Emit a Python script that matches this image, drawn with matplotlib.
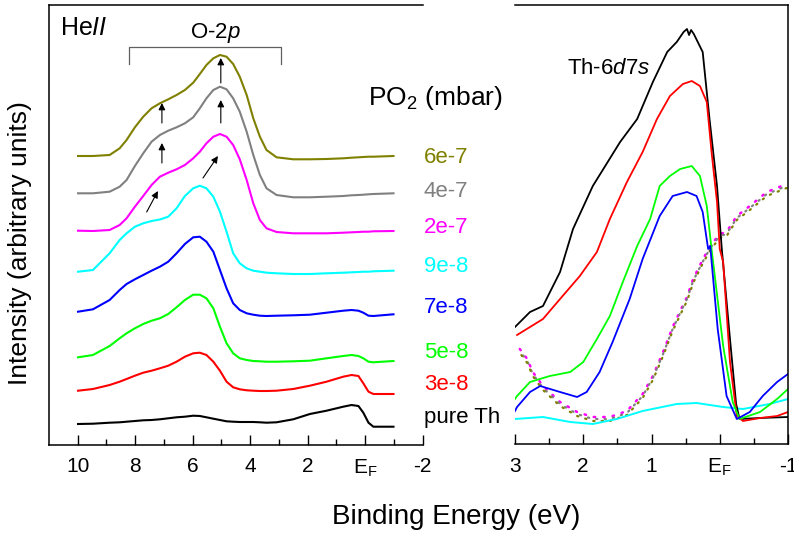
import matplotlib
matplotlib.use("Agg")
import matplotlib.pyplot as plt

plt.rcParams['font.family'] = ['Liberation Sans', 'DejaVu Sans']
plt.rcParams['mathtext.fontset'] = 'custom'
plt.rcParams['mathtext.rm'] = 'Liberation Sans'
plt.rcParams['mathtext.it'] = 'Liberation Sans:italic'
plt.rcParams['mathtext.bf'] = 'Liberation Sans:bold'

# ---------------- data: left panel (He II valence band) ----------------
left_labels = ['6e-7', '4e-7', '2e-7', '9e-8', '7e-8', '5e-8', '3e-8', 'pure Th']
left_colors = ['#808000', '#808080', '#ff00ff', '#00ffff', '#0000ff', '#00ff00', '#ff0000', '#000000']

# binding energy grid (eV) shared by all left-panel spectra
energy_left = [9.99, 9.47, 8.89, 8.54, 8.30, 8.01, 7.72, 7.43, 7.14, 6.85, 6.56, 6.27,
               5.98, 5.75, 5.52, 5.28, 5.05, 4.82, 4.59, 4.36, 4.12, 3.89, 3.66, 3.43,
               3.08, 2.50, 1.92, 1.34, 0.76, 0.47, 0.23, 0.06, -0.12, -0.29, -0.99]

y_olive = [289.0, 289.0, 290.0, 296.7, 305.0, 317.7, 328.3, 336.7, 341.7, 345.7, 350.0, 355.0,
           362.3, 371.0, 380.0, 386.7, 390.0, 388.3, 381.0, 368.3, 350.0, 326.7, 308.3, 295.0,
           287.7, 285.7, 285.7, 286.0, 286.7, 287.3, 287.7, 288.0, 288.3, 288.3, 289.0]

y_gray = [251.7, 251.7, 253.3, 258.3, 265.0, 279.0, 291.7, 303.3, 310.0, 314.3, 317.7, 321.7,
          327.7, 336.7, 346.7, 355.0, 358.3, 355.7, 346.7, 333.3, 313.3, 290.0, 270.0, 256.7,
          250.0, 247.7, 247.7, 248.3, 249.0, 249.7, 250.0, 250.3, 250.7, 251.0, 251.7]

y_magenta = [214.3, 214.0, 215.0, 220.0, 226.7, 238.3, 249.0, 260.0, 268.3, 272.3, 275.7, 280.0,
             286.7, 293.3, 301.7, 308.3, 311.0, 308.3, 300.0, 285.7, 265.0, 241.7, 225.0, 216.7,
             213.0, 211.7, 211.7, 211.7, 212.3, 212.7, 213.0, 213.3, 213.3, 213.7, 214.0]

y_cyan = [173.3, 175.0, 191.7, 205.0, 211.7, 218.3, 221.7, 224.0, 225.5, 228.3, 236.7, 249.0,
          256.7, 259.3, 256.7, 248.3, 233.3, 213.3, 191.7, 181.7, 176.7, 174.3, 173.3, 172.3,
          171.7, 171.0, 171.0, 171.7, 172.3, 172.7, 173.0, 173.3, 173.3, 173.7, 174.3]

y_blue = [133.3, 135.7, 145.0, 155.0, 161.0, 165.7, 170.0, 174.3, 178.3, 183.3, 191.7, 201.0,
          207.7, 208.3, 203.3, 193.3, 175.0, 156.7, 141.7, 135.0, 131.7, 130.3, 129.3, 129.0,
          129.3, 129.7, 130.3, 132.3, 134.3, 135.0, 134.3, 132.3, 129.3, 129.0, 130.7]

y_green = [87.7, 90.0, 99.0, 106.7, 111.7, 116.7, 121.0, 124.3, 126.7, 131.0, 137.7, 145.0,
           150.3, 150.3, 146.7, 136.7, 118.3, 101.7, 91.7, 86.7, 85.0, 84.0, 83.7, 83.3,
           83.3, 83.7, 84.3, 86.7, 89.0, 90.0, 89.0, 86.7, 83.3, 82.7, 84.0]

y_red = [54.3, 56.0, 60.0, 63.3, 66.0, 69.3, 72.3, 74.3, 76.7, 79.3, 83.3, 88.3,
         91.7, 92.3, 90.0, 83.3, 74.3, 63.3, 57.7, 55.7, 54.7, 54.3, 54.0, 54.0,
         54.3, 56.0, 59.3, 63.3, 68.3, 70.0, 69.0, 61.7, 53.3, 51.0, 51.0]

y_black = [21.0, 21.3, 22.3, 22.7, 23.3, 24.0, 24.7, 25.0, 25.7, 26.7, 27.7, 28.3,
           29.3, 29.0, 27.7, 26.3, 25.0, 23.7, 23.3, 23.0, 23.0, 23.0, 22.7, 22.3,
           22.7, 25.7, 31.0, 34.3, 38.3, 40.0, 39.0, 32.3, 22.3, 18.3, 18.3]

left_y = [y_olive, y_gray, y_magenta, y_cyan, y_blue, y_green, y_red, y_black]

# arrows (tail x, tail y, head x, head y)
arrows = [(5.02, 362, 5.02, 387), (7.07, 322, 7.07, 342),
          (5.02, 322, 5.02, 345), (7.07, 282, 7.07, 302),
          (5.64, 267, 5.12, 289), (7.60, 233, 7.21, 254)]

left_ticks = [10, 8, 6, 4, 2, 0, -2]
left_ticklabels = ['10', '8', '6', '4', '2', r'E$_{\rm F}$', '-2']

# ---------------- data: right panel (Th-6d7s region) ----------------
rx_black = [3.00, 2.78, 2.59, 2.34, 2.15, 1.86, 1.46, 1.21, 0.98, 0.77, 0.63, 0.53, 0.48, 0.45, 0.42, 0.38, 0.25, 0.15, 0.04, -0.03, -0.15, -0.24, -0.29, -0.59, -1.00]
ry_black = [117, 132, 138, 172, 215, 258, 302, 325, 362, 392, 402, 412, 415, 409, 414, 410, 392, 325, 258, 195, 105, 40, 25, 26, 27]

rx_red = [2.97, 2.59, 2.34, 2.05, 1.80, 1.61, 1.36, 1.13, 0.92, 0.73, 0.54, 0.41, 0.29, 0.19, 0.12, 0.04, 0.00, -0.05, -0.15, -0.25, -0.34, -0.59, -0.84, -1.00]
ry_red = [109, 125, 145, 168, 192, 225, 262, 292, 325, 348, 360, 363, 358, 342, 292, 242, 195, 182, 82, 28, 23, 26, 28, 32]

rx_green = [3.00, 2.97, 2.78, 2.49, 2.19, 2.00, 1.80, 1.61, 1.42, 1.21, 1.02, 0.88, 0.73, 0.58, 0.41, 0.29, 0.19, 0.12, -0.05, -0.19, -0.29, -0.59, -0.84, -1.00]
ry_green = [45, 48, 62, 68, 72, 82, 105, 128, 162, 198, 225, 258, 268, 275, 278, 268, 238, 195, 98, 42, 25, 32, 45, 55]

rx_blue = [3.00, 2.97, 2.78, 2.63, 2.34, 2.09, 1.95, 1.76, 1.57, 1.32, 1.13, 0.88, 0.69, 0.48, 0.34, 0.25, 0.17, 0.14, 0.03, -0.10, -0.25, -0.44, -0.63, -0.84, -1.00]
ry_blue = [33, 37, 52, 58, 52, 47, 52, 72, 102, 145, 185, 228, 248, 252, 248, 232, 195, 198, 115, 48, 25, 32, 48, 62, 70]

rx_cyan = [3.00, 2.59, 2.19, 1.86, 1.51, 1.13, 0.63, 0.34, -0.05, -0.34, -0.73, -1.00]
ry_cyan = [25, 27, 22, 20, 25, 33, 40, 41, 37, 35, 40, 45]

rx_dots = [2.93, 2.82, 2.74, 2.59, 2.34, 2.09, 1.86, 1.61, 1.36, 1.13, 0.98, 0.83, 0.69, 0.58, 0.48, 0.39, 0.26, 0.14, 0.00, -0.10, -0.25, -0.44, -0.69, -0.98]
ry_dots = [95, 85, 72, 58, 42, 32, 27, 27, 33, 50, 68, 92, 117, 133, 147, 165, 183, 198, 210, 212, 228, 238, 252, 260]

right_ticks = [3, 2, 1, 0, -1]
right_ticklabels = ['3', '2', '1', r'E$_{\rm F}$', '-1']

# ---------------- figure ----------------
W, H = 794, 535
fig = plt.figure(figsize=(W / 100, H / 100), dpi=100)
axL = fig.add_axes([49 / W, 1 - 445 / H, (422.5 - 49) / W, 440 / H])
axR = fig.add_axes([515 / W, 1 - 444 / H, (788 - 515) / W, 439 / H])

for ax in (axL, axR):
    ax.set_yticks([])
    for s in ax.spines.values():
        s.set_linewidth(1.1)
    ax.tick_params(axis='x', which='major', direction='in', length=7, width=1.0,
                   labelsize=15, pad=9)
    ax.tick_params(axis='x', which='minor', direction='in', length=4, width=1.0)
axL.set_ylim(0, 440)
axR.set_ylim(0, 439)

axL.spines['right'].set_visible(False)
axR.spines['left'].set_visible(False)

axL.set_xlim(11.0, -2.0)
axL.set_xticks(left_ticks)
axL.set_xticklabels(left_ticklabels)
axL.set_xticks([9, 7, 5, 3, 1, -1], minor=True)

axR.set_xlim(3.0, -1.0)
axR.set_xticks(right_ticks)
axR.set_xticklabels(right_ticklabels)
axR.set_xticks([2.5, 1.5, 0.5, -0.5], minor=True)

for ys, c in zip(left_y, left_colors):
    axL.plot(energy_left, ys, color=c, lw=1.5, solid_joinstyle='round')

for (x0, y0, x1, y1) in arrows:
    axL.annotate('', xy=(x1, y1), xytext=(x0, y0),
                 arrowprops=dict(arrowstyle='-|>', color='black', lw=0.8,
                                 mutation_scale=10, shrinkA=0, shrinkB=0))

# O-2p bracket
axL.plot([8.22, 8.22, 2.93, 2.93], [381, 398, 398, 381], color='#606060', lw=0.9)
axL.text(5.2, 407, r'O-2$\it{p}$', ha='center', va='baseline', fontsize=16)
axL.text(10.63, 410, r'He$\it{II}$', ha='left', va='baseline', fontsize=18)

# right panel curves
axR.plot(rx_dots, ry_dots, color='#ff00ff', lw=1.8, linestyle=(0, (0.6, 3.2)),
         dash_capstyle='round')
axR.plot(rx_dots, [v - 2 for v in ry_dots], color='#808080', lw=1.6,
         linestyle=(1.3, (0.6, 3.2)), dash_capstyle='round')
axR.plot(rx_dots, [v - 4 for v in ry_dots], color='#808000', lw=1.6,
         linestyle=(2.6, (0.6, 3.2)), dash_capstyle='round')
axR.plot(rx_cyan, ry_cyan, color='#00ffff', lw=1.4)
axR.plot(rx_black, ry_black, color='#000000', lw=1.3)
axR.plot(rx_red, ry_red, color='#ff0000', lw=1.3)
axR.plot(rx_green, ry_green, color='#00ff00', lw=1.3)
axR.plot(rx_blue, ry_blue, color='#0000ff', lw=1.3)
axR.text(2.24, 370, r'Th-$\it{6d7s}$', ha='left', va='baseline', fontsize=16)

# legend-like labels
label_base = [163, 197, 233, 272, 313, 358, 390, 423]
for lab, c, py in zip(left_labels, left_colors, label_base):
    fig.text(424 / W, 1 - py / H, lab, color=c, fontsize=16, ha='left', va='baseline')
fig.text(368 / W, 1 - 105 / H, r'PO$_2$ (mbar)', fontsize=19, ha='left', va='baseline')

fig.text(20 / W, 1 - 243 / H, 'Intensity (arbitrary units)', rotation=90,
         fontsize=19, ha='center', va='center')
fig.text(456 / W, 1 - 524 / H, 'Binding Energy (eV)', fontsize=20,
         ha='center', va='baseline')

fig.savefig('out.png', dpi=100)
